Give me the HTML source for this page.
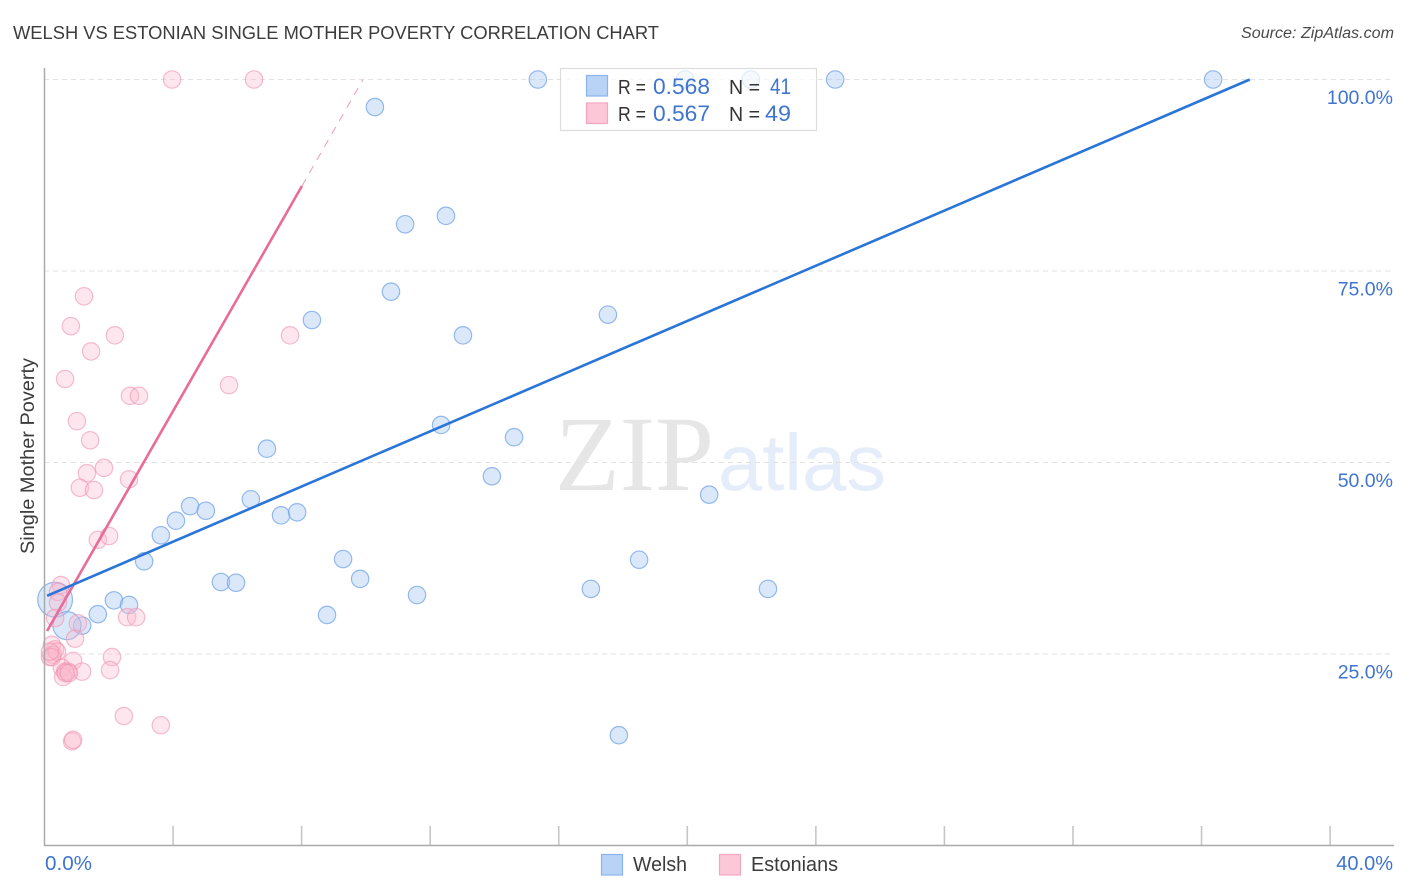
<!DOCTYPE html>
<html lang="en">
<head>
<meta charset="utf-8">
<title>Welsh vs Estonian Single Mother Poverty Correlation Chart</title>
<style>
html,body{margin:0;padding:0;background:#fff;width:1406px;height:892px;overflow:hidden}
svg{display:block}
text{font-family:"Liberation Sans",sans-serif}
</style>
</head>
<body>
<svg id="chart" xmlns="http://www.w3.org/2000/svg" width="1406" height="892" viewBox="0 0 1406 892">
  <rect width="1406" height="892" fill="#fff"/>
  <text x="13" y="39" font-size="18.5" fill="#3c3c3c" textLength="646" lengthAdjust="spacingAndGlyphs">WELSH VS ESTONIAN SINGLE MOTHER POVERTY CORRELATION CHART</text>
  <text x="1241" y="38" font-size="15.5" font-style="italic" fill="#4a4a4a" textLength="153" lengthAdjust="spacingAndGlyphs">Source: ZipAtlas.com</text>
  <g>
    <text x="555" y="490" font-size="107" fill="#e6e6e6" textLength="159" lengthAdjust="spacingAndGlyphs" style="font-family:'Liberation Serif',serif">ZIP</text>
    <text x="718" y="490" font-size="80" fill="#e4edf9" textLength="168" lengthAdjust="spacingAndGlyphs">atlas</text>
  </g>
  <g id="grid"></g>
  <g id="xticks"></g>
  <g id="points"></g>
  <g id="trends"></g>
  <line x1="44.5" y1="68" x2="44.5" y2="846" stroke="#aaa" stroke-width="1.5"/>
  <line x1="44" y1="845.5" x2="1394" y2="845.5" stroke="#aaa" stroke-width="1.5"/>
  <g id="ylabels"></g>
  <text transform="translate(34,456) rotate(-90)" font-size="19.5" fill="#3c3c3c" text-anchor="middle" textLength="196" lengthAdjust="spacingAndGlyphs">Single Mother Poverty</text>
  <text x="45" y="870" font-size="20" fill="#3f74cf" textLength="47" lengthAdjust="spacingAndGlyphs">0.0%</text>
  <text x="1393" y="870" font-size="20" fill="#3f74cf" text-anchor="end">40.0%</text>

  <g>
    <rect x="560.5" y="68.5" width="256" height="62" fill="#fff" fill-opacity="0.72" stroke="#dcdcdc" stroke-width="1.2"/>
    <rect x="586.5" y="75.5" width="21" height="20.5" fill="#b9d3f6" stroke="#8ab4ec" stroke-width="1.2"/>
    <rect x="586.5" y="103" width="21" height="20.5" fill="#fcc8d8" stroke="#f4a6c0" stroke-width="1.2"/>
    <text x="618" y="94" font-size="20" fill="#333" textLength="28" lengthAdjust="spacingAndGlyphs">R =</text>
    <text x="653" y="94" font-size="22" fill="#3f74cf" textLength="57" lengthAdjust="spacingAndGlyphs">0.568</text>
    <text x="729" y="94" font-size="20" fill="#333" textLength="31" lengthAdjust="spacingAndGlyphs">N =</text>
    <text x="770" y="94" font-size="22" fill="#3f74cf" textLength="21" lengthAdjust="spacingAndGlyphs">41</text>
    <text x="618" y="121" font-size="20" fill="#333" textLength="28" lengthAdjust="spacingAndGlyphs">R =</text>
    <text x="653" y="121" font-size="22" fill="#3f74cf" textLength="57" lengthAdjust="spacingAndGlyphs">0.567</text>
    <text x="729" y="121" font-size="20" fill="#333" textLength="31" lengthAdjust="spacingAndGlyphs">N =</text>
    <text x="765" y="121" font-size="22" fill="#3f74cf" textLength="26" lengthAdjust="spacingAndGlyphs">49</text>
  </g>

  <g>
    <rect x="601.5" y="854.5" width="21" height="20.5" fill="#b9d3f6" stroke="#8ab4ec" stroke-width="1.2"/>
    <text x="633" y="871" font-size="20" fill="#3c3c3c" textLength="54" lengthAdjust="spacingAndGlyphs">Welsh</text>
    <rect x="719.5" y="854.5" width="21" height="20.5" fill="#fcc8d8" stroke="#f4a6c0" stroke-width="1.2"/>
    <text x="751" y="871" font-size="20" fill="#3c3c3c" textLength="87" lengthAdjust="spacingAndGlyphs">Estonians</text>
  </g>
</svg>
<script>
const yTickValues = [25, 50, 75, 100];
const yTickLabels = ["25.0%", "50.0%", "75.0%", "100.0%"];
const xTickValues = [4, 8, 12, 16, 20, 24, 28, 32, 36, 40];

const welshX = [15.35,19.93,21.98,24.6,36.36,10.28,11.22,12.49,10.78,8.32,17.53,13.02,12.34,14.61,6.92,13.92,20.68,6.42,4.53,5.02,7.36,7.86,4.09,3.62,3.1,9.29,18.5,5.49,5.96,9.82,11.59,17.0,22.51,2.16,2.63,1.66,8.79,1.17,17.87,0.33,0.7];
const welshY = [100,100,100,100,100,96.4,81.1,82.2,72.3,68.6,69.3,66.6,54.9,53.3,51.8,48.2,45.8,45.2,44.3,43.7,43.1,43.5,42.4,40.5,37.1,37.4,37.3,34.4,34.3,34.8,32.7,33.5,33.5,32.0,31.4,30.2,30.1,28.7,14.4,32.1,28.7];
const welshWeight = [1,1,1,1,1,1,1,1,1,1,1,1,1,1,1,1,1,1,1,1,1,1,1,1,1,1,1,1,1,1,1,1,1,1,1,1,1,1,1,4,2.6];

const estonianX = [3.97,6.52,1.23,0.82,2.19,1.45,7.64,0.64,5.74,2.66,2.94,1.01,1.42,1.85,1.32,2.63,1.1,1.54,1.66,2.01,0.51,0.42,0.42,0.33,2.57,2.85,1.04,0.95,0.23,0.33,0.26,0.17,0.39,0.23,0.89,2.1,2.04,1.17,0.54,0.64,0.73,0.58,0.66,0.76,2.47,3.62,0.86,0.89,0.17];
const estonianY = [100,100,71.7,67.8,66.6,64.5,66.6,60.9,60.1,58.7,58.7,55.4,52.9,49.3,48.6,47.8,46.7,46.4,39.9,40.4,34.0,33.1,31.7,29.7,29.8,29.8,29.0,27.0,26.2,25.6,24.9,24.6,25.3,24.6,24.1,24.6,22.9,22.7,23.2,22.7,22.7,22.0,22.5,22.5,16.9,15.7,13.6,13.8,25.3];

const welshTrendX = [0.08, 37.5];
const welshTrendY = [32.6, 100];
const estonianTrendX = [0.08, 8.01];
const estonianTrendY = [28.0, 86.1];
const estonianExtensionX = [8.01, 9.91];
const estonianExtensionY = [86.1, 100];

const NS = "http://www.w3.org/2000/svg";
function xScale(v) { return 44.5 + v * 32.14; }
function yScale(v) { return 845.5 - v * 7.66; }
function make(tag, attrs, parent) {
  const el = document.createElementNS(NS, tag);
  for (const k in attrs) el.setAttribute(k, attrs[k]);
  document.getElementById(parent).appendChild(el);
  return el;
}

yTickValues.forEach(function (v, i) {
  const g = make("line", {x1: 44, x2: 1394, y1: yScale(v), y2: yScale(v), stroke: "#e2e2e2", "stroke-width": 1, "stroke-dasharray": "5 4"}, "grid");
  
  
  const t = make("text", {x: 1393, y: yScale(v) + 24.5, "font-size": 19.5, fill: "#3f74cf", "text-anchor": "end"}, "ylabels");
  t.textContent = yTickLabels[i];
  
  
});

xTickValues.forEach(function (v) {
  const k = make("line", {x1: xScale(v), x2: xScale(v), y1: 826, y2: 845, stroke: "#c6c6c6", "stroke-width": 1.6}, "xticks");
  
  
});

welshX.forEach(function (v, i) {
  const c = make("circle", {cx: xScale(v), cy: yScale(welshY[i]), r: 8.7 * Math.sqrt(welshWeight[i]), fill: "#a6c8f4", "fill-opacity": 0.42, stroke: "#7aa9e8", "stroke-opacity": 0.8, "stroke-width": 1.2}, "points");
  
  
});

estonianX.forEach(function (v, i) {
  const c = make("circle", {cx: xScale(v), cy: yScale(estonianY[i]), r: 8.7, fill: "#f9b9cc", "fill-opacity": 0.36, stroke: "#ef8fb0", "stroke-opacity": 0.58, "stroke-width": 1.2}, "points");
  
  
});

const estTrend = make("line", {x1: xScale(estonianTrendX[0]), y1: yScale(estonianTrendY[0]), x2: xScale(estonianTrendX[1]), y2: yScale(estonianTrendY[1]), stroke: "#e96b98", "stroke-width": 2.6}, "trends");



const estExt = make("line", {x1: xScale(estonianExtensionX[0]), y1: yScale(estonianExtensionY[0]), x2: xScale(estonianExtensionX[1]), y2: yScale(estonianExtensionY[1]), stroke: "#ee9ab8", "stroke-width": 1, "stroke-dasharray": "8 7"}, "trends");



const welTrend = make("line", {x1: xScale(welshTrendX[0]), y1: yScale(welshTrendY[0]), x2: xScale(welshTrendX[1]), y2: yScale(welshTrendY[1]), stroke: "#2a75d8", "stroke-width": 2.6}, "trends");


</script>
</body>
</html>
